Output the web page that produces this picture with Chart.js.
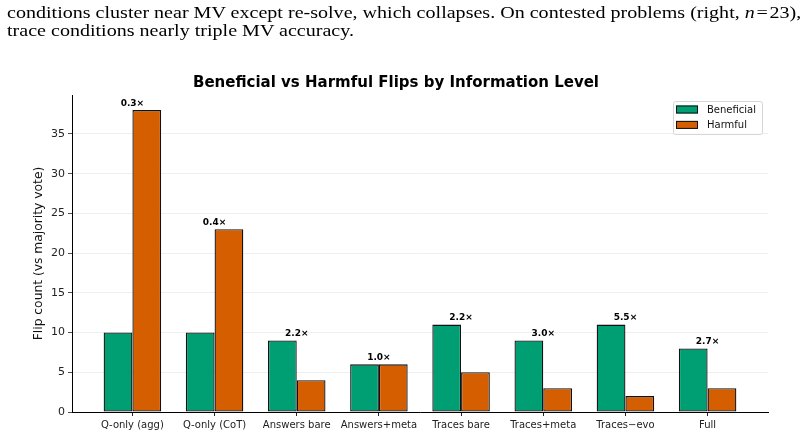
<!DOCTYPE html>
<html>
<head>
<meta charset="utf-8">
<script src="https://cdn.jsdelivr.net/npm/chart.js@4.4.1/dist/chart.umd.min.js"></script>
<style>
  html, body { margin: 0; padding: 0; background: #fff; }
  #wrap { position: relative; width: 806px; height: 437px; overflow: hidden; }
  #caption { position: absolute; left: 7px; top: 4px; font-family: 'Liberation Serif', serif; font-size: 17px; line-height: 18px; color: #000; white-space: nowrap; transform: scaleX(1.18); transform-origin: 0 0; }
  #chart { position: absolute; left: 0; top: 0; }
</style>
</head>
<body>
<div id="wrap">
  <canvas id="chart" width="806" height="437" style="width:806px;height:437px"></canvas>
  <div id="caption">conditions cluster near MV except re-solve, which collapses. On contested problems (right, <i>n</i>&#8202;=&#8202;23),<br>trace conditions nearly triple MV accuracy.</div>
</div>
<script>
// Chart data
const categories = ['Q-only (agg)', 'Q-only (CoT)', 'Answers bare', 'Answers+meta', 'Traces bare', 'Traces+meta', 'Traces\u2212evo', 'Full'];
const beneficial = [10, 10, 9, 6, 11, 9, 11, 8];
const harmful = [38, 23, 4, 6, 5, 3, 2, 3];
const ratioLabels = ['0.3\u00d7', '0.4\u00d7', '2.2\u00d7', '1.0\u00d7', '2.2\u00d7', '3.0\u00d7', '5.5\u00d7', '2.7\u00d7'];
const yTicks = [0, 5, 10, 15, 20, 25, 30, 35];

const FONT = '"DejaVu Sans", sans-serif';
const GREEN = '#009E73';
const ORANGE = '#D55E00';

// Ratio text above each pair
const ratioText = {
    id: 'ratioText',
    afterDatasetsDraw(chart) {
        const { ctx, scales: { x, y } } = chart;
        ctx.save();
        ctx.font = 'bold 9px ' + FONT;
        ctx.fillStyle = '#000';
        ctx.textAlign = 'center';
        ctx.textBaseline = 'alphabetic';
        ratioLabels.forEach((t, i) => {
            const top = Math.max(beneficial[i], harmful[i]);
            ctx.fillText(t, x.getPixelForValue(i), y.getPixelForValue(top + 0.55));
        });
        ctx.restore();
    }
};

// Boxed legend, upper right
const boxLegend = {
    id: 'boxLegend',
    afterDraw(chart) {
        const { ctx, chartArea } = chart;
        const bx = chartArea.right - 95, by = chartArea.top + 6, bw = 89, bh = 33;
        ctx.save();
        ctx.fillStyle = 'rgba(255,255,255,0.8)';
        ctx.strokeStyle = '#d6d6d6';
        ctx.lineWidth = 1;
        ctx.beginPath();
        ctx.roundRect(bx + 0.5, by + 0.5, bw, bh, 2);
        ctx.fill();
        ctx.stroke();
        ctx.font = '10px ' + FONT;
        ctx.textBaseline = 'middle';
        chart.data.datasets.forEach((ds, i) => {
            const cy = by + 8.5 + i * 15.4;
            ctx.fillStyle = ds.backgroundColor;
            ctx.fillRect(bx + 3, cy - 4, 22, 8);
            ctx.strokeStyle = '#111';
            ctx.strokeRect(bx + 3.5, cy - 3.5, 21, 7);
            ctx.fillStyle = '#111';
            ctx.fillText(ds.label, bx + 34, cy + 0.5);
        });
        ctx.restore();
    }
};

function createChart() {
    const ctx = document.getElementById('chart').getContext('2d');
    return new Chart(ctx, {
        type: 'bar',
        data: {
            datasets: [
                {
                    label: 'Beneficial',
                    data: beneficial.map((v, i) => ({ x: i, y: v })),
                    backgroundColor: GREEN,
                    borderColor: '#111',
                    borderWidth: 1.3,
                    borderSkipped: false
                },
                {
                    label: 'Harmful',
                    data: harmful.map((v, i) => ({ x: i, y: v })),
                    backgroundColor: ORANGE,
                    borderColor: '#111',
                    borderWidth: 1.3,
                    borderSkipped: false
                }
            ]
        },
        options: {
            responsive: false,
            animation: false,
            categoryPercentage: 0.7,
            barPercentage: 1.0,
            layout: { padding: { left: 24, right: 38, top: 66, bottom: 0 } },
            plugins: {
                legend: { display: false },
                tooltip: { enabled: false },
                title: {
                    display: true,
                    text: 'Beneficial vs Harmful Flips by Information Level',
                    color: '#000',
                    font: { family: FONT, size: 15, weight: 'bold' },
                    padding: { top: 8, bottom: 3 }
                }
            },
            scales: {
                x: {
                    type: 'linear',
                    min: -0.735,
                    max: 7.735,
                    offset: false,
                    afterBuildTicks: (scale) => { scale.ticks = categories.map((c, i) => ({ value: i })); },
                    afterFit: (scale) => { scale.height = 25; },
                    ticks: {
                        callback: (v) => categories[v],
                        color: '#222',
                        font: { family: FONT, size: 10 },
                        padding: 3,
                        maxRotation: 0,
                        autoSkip: false
                    },
                    grid: { offset: false, drawOnChartArea: false, drawTicks: true, tickLength: 4, color: '#222' },
                    border: { color: '#000', width: 1 }
                },
                y: {
                    min: 0,
                    max: 39.9,
                    afterBuildTicks: (scale) => { scale.ticks = yTicks.map(v => ({ value: v })); },
                    afterFit: (scale) => { scale.width = 48; },
                    ticks: {
                        color: '#222',
                        font: { family: FONT, size: 11 },
                        padding: 3
                    },
                    grid: { color: '#ebebeb', lineWidth: 0.8, tickColor: '#222', tickLength: 4 },
                    border: { color: '#000', width: 1 },
                    title: {
                        display: true,
                        text: 'Flip count (vs majority vote)',
                        color: '#111',
                        font: { family: FONT, size: 12.3 },
                        padding: { top: 7, bottom: 0 }
                    }
                }
            }
        },
        plugins: [ratioText, boxLegend]
    });
}

createChart();
</script>
</body>
</html>
